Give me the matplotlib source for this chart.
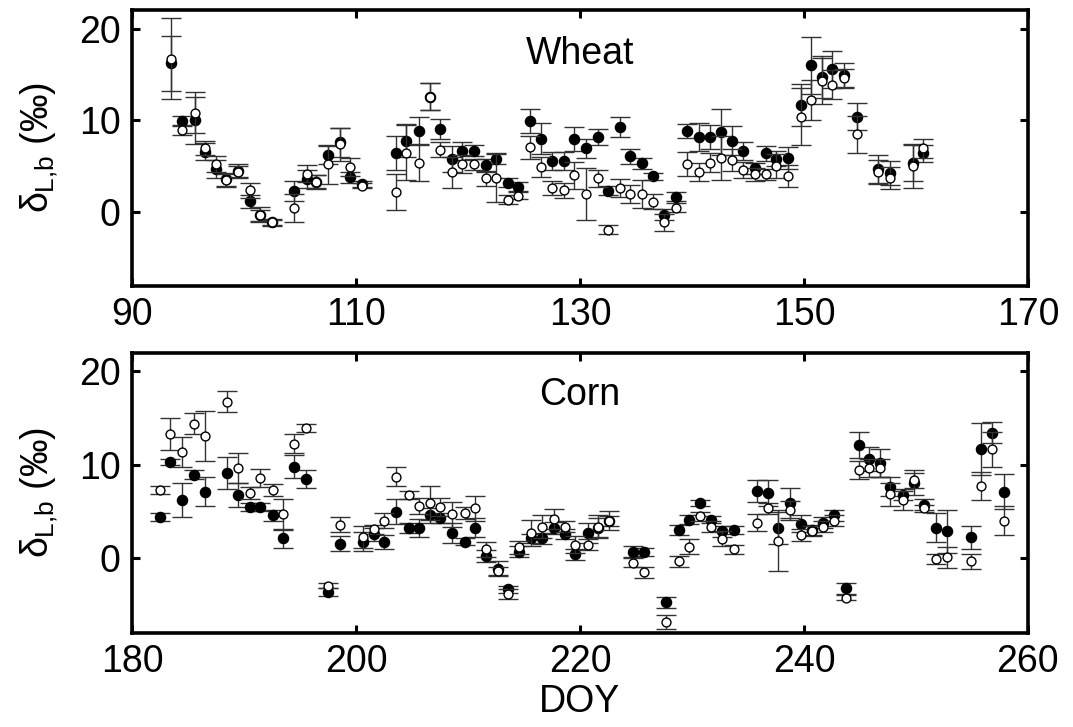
import numpy as np
import matplotlib
matplotlib.use('Agg')
import matplotlib.pyplot as plt

plt.rcParams['font.family'] = ['Liberation Sans', 'DejaVu Sans']
plt.rcParams['mathtext.fontset'] = 'custom'
plt.rcParams['mathtext.rm'] = 'Liberation Sans'
plt.rcParams['mathtext.it'] = 'Liberation Sans'

# ---- wheat ----
wheat_doy = [93.5, 94.5, 95.6, 96.5, 97.5, 98.4, 99.5, 100.5, 101.4, 102.5,
             104.5, 105.6, 106.4, 107.5, 108.6, 109.5, 110.5, 113.6, 114.5, 115.6,
             116.6, 117.5, 118.6, 119.5, 120.5, 121.6, 122.5, 123.6, 124.5, 125.5,
             126.5, 127.5, 128.6, 129.5, 130.5, 131.6, 132.5, 133.6, 134.5, 135.5,
             136.5, 137.5, 138.6, 139.6, 140.6, 141.6, 142.6, 143.6, 144.6, 145.6,
             146.6, 147.5, 148.6, 149.7, 150.6, 151.6, 152.5, 153.6, 154.7, 156.6,
             157.7, 159.7, 160.6]
wheat_filled = [16.2, 9.95, 10.0, 6.6, 4.7, 3.6, 4.5, 1.2, -0.25, -1.1,
                2.35, 3.6, 3.3, 6.25, 7.6, 3.8, 3.1, 6.45, 7.8, 8.85,
                12.6, 9.05, 5.8, 6.7, 6.7, 5.1, 5.85, 3.2, 2.8, 9.95,
                8.0, 5.6, 5.6, 8.0, 6.95, 8.2, 2.35, 9.3, 6.1, 5.35,
                3.9, -0.25, 1.7, 8.85, 8.2, 8.2, 8.7, 7.8, 6.7, 4.8,
                6.4, 5.85, 5.95, 11.65, 16.0, 14.7, 15.55, 14.9, 10.4, 4.7,
                4.3, 5.35, 6.4]
wheat_filled_err = [3.0, 0.5, 2.6, 0.9, 1.0, 0.7, 0.8, 0.7, 0.8, 0.4,
                    1.1, 1.0, 0.8, 1.0, 1.6, 0.6, 0.3, 1.8, 1.8, 1.5,
                    1.5, 1.1, 1.4, 1.0, 0.6, 0.7, 0.6, 0.5, 0.5, 1.3,
                    1.7, 1.0, 1.0, 1.3, 1.0, 0.9, 0.5, 1.1, 0.8, 0.6,
                    0.4, 0.6, 0.5, 0.8, 1.5, 1.3, 2.5, 1.6, 1.0, 0.6,
                    0.8, 0.8, 1.2, 2.3, 3.1, 2.3, 2.0, 1.4, 1.5, 1.5,
                    1.3, 2.0, 0.9]
wheat_open = [16.7, 8.9, 10.85, 7.0, 5.25, 3.5, 4.4, 2.4, -0.35, -1.1,
              0.45, 4.2, 3.3, 5.2, 7.4, 4.9, 2.9, 2.2, 6.5, 5.4,
              12.6, 6.8, 4.35, 5.25, 5.25, 3.7, 3.7, 1.35, 1.8, 7.05,
              4.9, 2.65, 2.4, 4.0, 2.0, 3.7, -1.9, 2.65, 2.0, 2.0,
              1.15, -1.1, 0.5, 5.25, 4.35, 5.4, 5.9, 5.7, 4.6, 4.15,
              4.15, 5.0, 3.9, 10.4, 12.2, 14.3, 13.9, 14.6, 8.5, 4.35,
              3.7, 5.05, 6.95]
wheat_open_err = [4.4, 0.5, 2.2, 0.8, 0.9, 0.7, 0.6, 0.8, 0.6, 0.3,
                  1.5, 0.9, 0.7, 2.1, 1.8, 1.0, 0.3, 2.0, 3.0, 2.0,
                  1.5, 0.8, 1.7, 1.0, 0.6, 0.8, 2.6, 0.5, 0.4, 1.3,
                  1.1, 0.8, 0.8, 1.5, 2.8, 0.9, 0.5, 1.0, 1.0, 1.5,
                  0.8, 0.9, 0.5, 1.3, 1.0, 1.0, 2.4, 1.2, 0.9, 0.7,
                  0.6, 1.3, 1.2, 3.1, 2.2, 2.5, 1.6, 1.0, 2.0, 1.3,
                  1.2, 2.4, 1.0]

# ---- corn ----
corn_doy = [182.5, 183.4, 184.5, 185.5, 186.5, 188.5, 189.5, 190.5, 191.4, 192.6,
            193.5, 194.5, 195.5, 197.5, 198.6, 200.6, 201.6, 202.5, 203.6, 204.7,
            205.6, 206.6, 207.5, 208.6, 209.7, 210.6, 211.6, 212.7, 213.6, 214.6,
            215.6, 216.6, 217.7, 218.7, 219.6, 220.7, 221.6, 222.6, 224.7, 225.7,
            227.7, 228.8, 229.7, 230.7, 231.7, 232.7, 233.75, 235.8, 236.8, 237.7,
            238.75, 239.7, 240.7, 241.7, 242.7, 243.75, 244.9, 245.8, 246.8, 247.7,
            248.8, 249.8, 250.7, 251.8, 252.8, 254.9, 255.8, 256.8, 257.9]
corn_filled = [4.4, 10.3, 6.25, 8.95, 7.15, 9.1, 6.8, 5.5, 5.5, 4.6,
               2.15, 9.8, 8.5, -3.6, 1.55, 1.8, 2.6, 1.75, 5.0, 3.25,
               3.25, 4.6, 4.3, 2.7, 1.8, 3.3, 0.25, -1.1, -3.3, 0.7,
               2.15, 2.15, 3.25, 2.6, 0.45, 2.7, 3.3, 4.0, 0.7, 0.7,
               -4.7, 3.05, 4.15, 5.9, 4.15, 2.9, 3.05, 7.2, 6.95, 3.25,
               5.9, 3.7, 3.0, 3.8, 4.6, -3.2, 12.15, 10.65, 10.2, 7.65,
               6.8, 8.1, 5.75, 3.3, 2.9, 2.25, 11.7, 13.45, 7.15]
corn_filled_err = [0.4, 0.3, 1.8, 0.5, 1.5, 1.7, 1.3, 0.4, 0.4, 0.6,
                   1.0, 1.2, 1.0, 0.4, 0.8, 1.0, 0.7, 0.8, 1.3, 0.5,
                   1.0, 0.8, 0.5, 1.1, 0.4, 1.0, 0.6, 0.8, 0.4, 0.6,
                   0.5, 0.6, 0.6, 0.5, 0.6, 1.1, 1.0, 0.5, 0.6, 0.4,
                   0.6, 0.5, 0.5, 0.3, 0.4, 0.6, 0.4, 1.2, 1.4, 1.7,
                   1.6, 0.9, 0.6, 0.6, 0.6, 0.6, 1.4, 1.3, 1.5, 1.0,
                   0.6, 1.3, 0.6, 1.5, 2.3, 1.2, 2.8, 1.1, 1.9]
corn_open = [7.3, 13.3, 11.35, 14.4, 13.1, 16.75, 9.65, 7.0, 8.6, 7.3,
             4.7, 12.25, 13.95, -2.9, 3.6, 2.3, 3.1, 4.05, 8.75, 6.8,
             5.6, 5.95, 5.5, 4.7, 4.85, 5.35, 1.0, -1.35, -3.8, 1.2,
             2.7, 3.4, 4.2, 3.4, 1.45, 1.45, 3.4, 4.05, -0.45, -1.5,
             -6.8, -0.3, 1.25, 4.5, 3.4, 2.1, 0.97, 3.8, 5.35, 1.9,
             5.15, 2.5, 2.95, 3.4, 4.05, -4.2, 9.45, 9.65, 9.65, 6.85,
             6.2, 8.35, 5.35, -0.05, 0.1, -0.3, 7.7, 11.65, 4.05]
corn_open_err = [0.4, 1.7, 1.6, 1.1, 2.7, 1.1, 1.6, 0.6, 1.0, 0.6,
                 1.7, 1.0, 0.4, 0.3, 0.8, 1.2, 0.5, 0.8, 1.0, 0.4,
                 0.9, 1.8, 1.0, 1.3, 0.6, 1.3, 0.8, 0.4, 0.5, 0.7,
                 1.4, 1.2, 1.1, 0.6, 0.9, 0.6, 1.2, 1.0, 0.5, 0.6,
                 0.8, 0.6, 0.8, 0.5, 0.6, 0.8, 0.5, 0.9, 0.6, 3.3,
                 1.0, 0.6, 0.5, 0.6, 0.6, 0.3, 1.0, 1.0, 1.0, 1.2,
                 1.0, 0.8, 0.4, 0.5, 1.1, 0.8, 1.5, 1.9, 1.6]

fs = 27
fig = plt.figure(figsize=(10.73, 7.27), dpi=100)
ax1 = fig.add_axes([0.123, 0.607, 0.835, 0.379])
ax2 = fig.add_axes([0.123, 0.129, 0.835, 0.386])

panels = [(ax1, wheat_doy, wheat_filled, wheat_filled_err, wheat_open, wheat_open_err,
           (90, 170), [90, 110, 130, 150, 170], 'Wheat', (130, 17.2)),
          (ax2, corn_doy, corn_filled, corn_filled_err, corn_open, corn_open_err,
           (180, 260), [180, 200, 220, 240, 260], 'Corn', (220, 17.5))]

for ax, x, yf, ef, yo, eo, xl, xt, name, pos in panels:
    ax.errorbar(x, yf, yerr=ef, fmt='o', ms=7.3, mfc='black', mec='black',
                ecolor='#333333', elinewidth=1.0, capsize=7, capthick=1.0, zorder=2)
    ax.errorbar(x, yo, yerr=eo, fmt='o', ms=6.4, mfc='white', mec='black', mew=1.0,
                ecolor='#333333', elinewidth=1.0, capsize=7, capthick=1.0, zorder=3)
    ax.set_xlim(xl)
    ax.set_ylim(-8, 22)
    ax.set_xticks(xt)
    ax.set_yticks([0, 10, 20])
    ax.tick_params(direction='in', length=6, width=2.2, labelsize=fs,
                   top=True, right=True, pad=8)
    for s in ax.spines.values():
        s.set_linewidth(2.6)
    ax.text(pos[0], pos[1], name, fontsize=fs, ha='center', va='center')
    ax.set_ylabel(r'$\delta_{\mathrm{L{,}b}}$ (‰)', fontsize=fs, labelpad=14)

ax2.set_xlabel('DOY', fontsize=fs, labelpad=3)

fig.savefig('out.png', dpi=100)
